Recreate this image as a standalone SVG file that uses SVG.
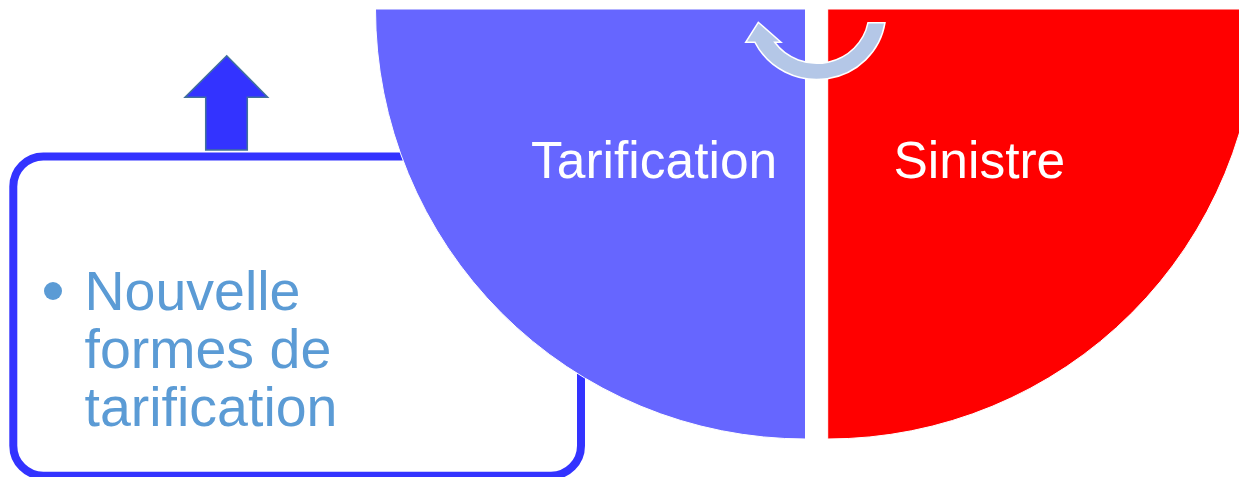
<svg xmlns="http://www.w3.org/2000/svg" width="1239" height="477" viewBox="0 0 1239 477">
  <style>
    .half { stroke: #ffffff; stroke-width: 1; }
    .label { font-family: "Liberation Sans", Arial, sans-serif; font-size: 51.5px; fill: #ffffff; }
    .bullet-text { font-family: "Liberation Sans", Arial, sans-serif; font-size: 55.5px; fill: #5B9BD5; }
  </style>
  <rect x="0" y="0" width="1239" height="477" fill="#ffffff"/>
  <g id="box">
    <rect x="13.3" y="156.5" width="567.7" height="319.2" rx="30" ry="30" fill="#ffffff" stroke="#3333FF" stroke-width="8"/>
  </g>
  <g id="up-arrow">
    <polygon points="226.7,55.7 267.7,97.3 247.3,97.3 247.3,150 205.7,150 205.7,97.3 185,97.3" fill="#3333FF" stroke="#41719C" stroke-width="1.5"/>
  </g>
  <g id="tarification">
    <path class="half" d="M 805.5 9 L 375.5 9 A 430 430 0 0 0 805.5 439 Z" fill="#6666FF"/>
    <text class="label" x="531" y="177.7">Tarification</text>
  </g>
  <g id="sinistre">
    <path class="half" d="M 827.7 9 L 827.7 439 A 430 430 0 0 0 1257.7 9 Z" fill="#FF0000"/>
    <text class="label" x="893.5" y="177.7">Sinistre</text>
  </g>
  <g id="connectors">
    <path d="M 885 22.7 A 69 67 0 0 1 755 42.3 L 745.7 42.3 L 758.3 22.3 L 781 42.3 L 774.7 42.3 A 52 50.3 0 0 0 868 22.7 Z" fill="#B4C7E7" stroke="#ffffff" stroke-width="1.5"/>
  </g>
  <g id="bullet">
    <circle cx="53" cy="291" r="9" fill="#5B9BD5"/>
    <text class="bullet-text" x="84.5" y="310">Nouvelle</text>
    <text class="bullet-text" x="84.5" y="368">formes de</text>
    <text class="bullet-text" x="84.5" y="426">tarification</text>
  </g>
</svg>
